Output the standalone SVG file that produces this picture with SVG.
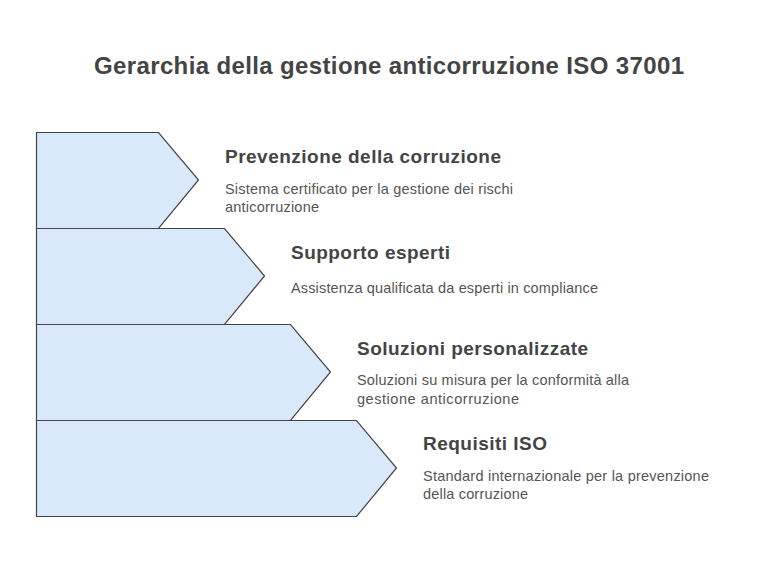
<svg xmlns="http://www.w3.org/2000/svg" width="781" height="565" viewBox="0 0 781 565">
<style>
.shape{fill:#dae8fc;stroke:#444444;stroke-width:1.2;stroke-linejoin:miter}
.title{font-family:"Liberation Sans",Arial,sans-serif;font-weight:bold;font-size:24px;fill:#444444}
.head{font-family:"Liberation Sans",Arial,sans-serif;font-weight:bold;font-size:19px;fill:#444444}
.desc{font-family:"Liberation Sans",Arial,sans-serif;font-size:14.5px;fill:#555555}
</style>
<rect width="781" height="565" fill="#ffffff"/>
<text class="title" x="94" y="74" textLength="590">Gerarchia della gestione anticorruzione ISO 37001</text>
<g id="connectors"></g>
<g id="node-requisiti">
<path class="shape" d="M36.5,420.5 H356.5 L396.5,468 L356.5,516.5 H36.5 Z"/>
<text class="head" x="423" y="450" textLength="124">Requisiti ISO</text>
<text class="desc" x="423" y="480.5" textLength="286">Standard internazionale per la prevenzione</text>
<text class="desc" x="423" y="499" textLength="105">della corruzione</text>
</g>
<g id="node-soluzioni">
<path class="shape" d="M36.5,324.5 H290.5 L330.5,372 L290.5,420.5 H36.5 Z"/>
<text class="head" x="357" y="354.5" textLength="231">Soluzioni personalizzate</text>
<text class="desc" x="357" y="385" textLength="272">Soluzioni su misura per la conformità alla</text>
<text class="desc" x="357" y="403.5" textLength="162">gestione anticorruzione</text>
</g>
<g id="node-supporto">
<path class="shape" d="M36.5,228.5 H224.5 L264.5,276 L224.5,324.5 H36.5 Z"/>
<text class="head" x="291" y="258.5" textLength="159">Supporto esperti</text>
<text class="desc" x="291" y="293.3" textLength="307">Assistenza qualificata da esperti in compliance</text>
</g>
<g id="node-prevenzione">
<path class="shape" d="M36.5,132.5 H158.5 L198.5,180 L158.5,228.5 H36.5 Z"/>
<text class="head" x="225" y="162.7" textLength="276">Prevenzione della corruzione</text>
<text class="desc" x="225" y="194.3" textLength="288">Sistema certificato per la gestione dei rischi</text>
<text class="desc" x="225" y="212.3" textLength="94">anticorruzione</text>
</g>
</svg>
